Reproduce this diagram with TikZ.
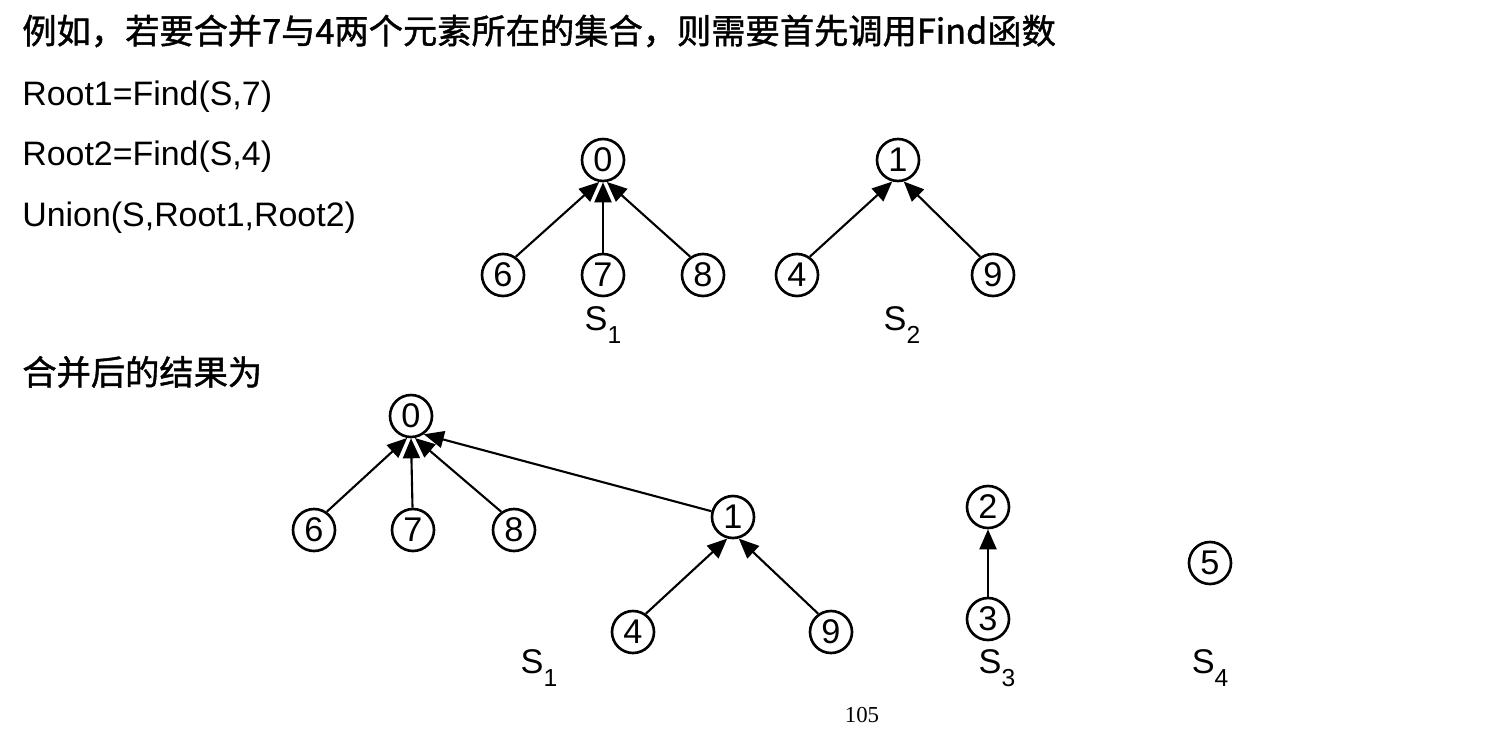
\documentclass[tikz,border=0pt]{standalone}
\usepackage{fontspec}
\setmainfont{Liberation Sans}
\newfontfamily\cjk{Noto Sans CJK SC}[FakeBold=1.2]
\newfontfamily\pgserif{Liberation Serif}
\usetikzlibrary{arrows.meta}
\newcommand\subn[1]{\raisebox{-0.38em}{\fontsize{14}{14}\selectfont #1}}
\begin{document}
\begin{tikzpicture}[x=0.02cm,y=-0.02cm,
  elem/.style={circle,draw,line width=1.5pt,minimum size=0.84cm,inner sep=0pt,font=\fontsize{19.5}{19.5}\selectfont},
  link/.style={line width=1.2pt,-{Triangle[length=0.4cm,width=0.34cm]}},
  txt/.style={anchor=west,inner sep=0pt,font=\fontsize{19.3}{22}\selectfont},
  lbl/.style={inner sep=0pt,font=\fontsize{19.5}{22}\selectfont}]
\useasboundingbox (0,0) rectangle (1500,730);
% texts
\node[txt,font=\fontsize{19.5}{22}\selectfont] (t1) at (22,31) {\cjk 例如，若要合并7与4两个元素所在的集合，则需要首先调用Find函数};
\node[txt] (t2) at (22,97) {Root1=Find(S,7)};
\node[txt] (t3) at (22,157) {Root2=Find(S,4)};
\node[txt] (t4) at (22,218) {Union(S,Root1,Root2)};
\node[txt,font=\fontsize{19.5}{22}\selectfont] (t5) at (22,372) {\cjk 合并后的结果为};
% top trees
\node[elem] (a0) at (603,160) {0};
\node[elem] (a6) at (503,275) {6};
\node[elem] (a7) at (603,275) {7};
\node[elem] (a8) at (703,275) {8};
\node[lbl] (aS1) at (603,325) {S\subn{1}};
\node[elem] (a1) at (898,160) {1};
\node[elem] (a4) at (797,275) {4};
\node[elem] (a9) at (993,275) {9};
\node[lbl] (aS2) at (902,325) {S\subn{2}};
\draw[link] (a6.55) -- (a0.-100);
\draw[link] (a7) -- (a0.south);
\draw[link] (a8.125) -- (a0.-80);
\draw[link] (a4.55) -- (a1.-105);
\draw[link] (a9.125) -- (a1.-75);
% bottom trees
\node[elem] (b0) at (411,416) {0};
\node[elem] (b6) at (314,530) {6};
\node[elem] (b7) at (413,530) {7};
\node[elem] (b8) at (514,530) {8};
\node[elem] (b1) at (733,517) {1};
\node[elem] (b4) at (633,632) {4};
\node[elem] (b9) at (831,632) {9};
\node[lbl] (bS1) at (539,668) {S\subn{1}};
\draw[link] (b6.55) -- (b0.-100);
\draw[link] (b7) -- (b0.south);
\draw[link] (b8.125) -- (b0.-80);
\draw[link] (b1) -- (b0.-55);
\draw[link] (b4.55) -- (b1.-105);
\draw[link] (b9.125) -- (b1.-75);
\node[elem] (b2) at (988,507) {2};
\node[elem] (b3) at (988,619) {3};
\node[lbl] (bS3) at (997,668) {S\subn{3}};
\draw[link] (b3) -- (b2);
\node[elem] (b5) at (1210,563) {5};
\node[lbl] (bS4) at (1210,668) {S\subn{4}};
\node[inner sep=0pt,font=\pgserif\fontsize{13}{13}\selectfont] (pg) at (862,715) {105};
\end{tikzpicture}
\end{document}
